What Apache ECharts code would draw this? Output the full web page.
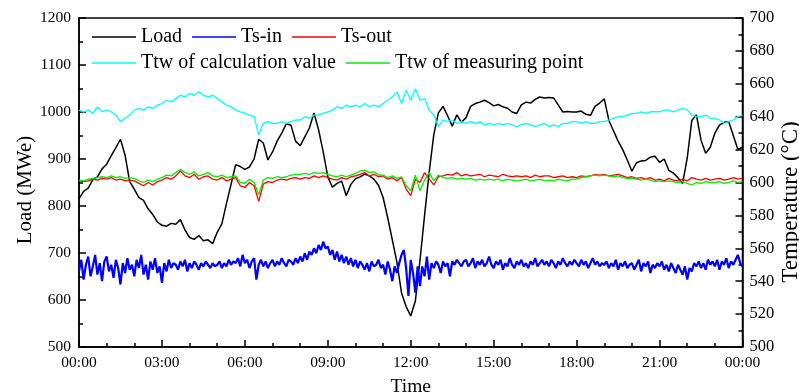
<!DOCTYPE html>
<html>
<head>
<meta charset="utf-8">
<script src="https://cdn.jsdelivr.net/npm/echarts@6/dist/echarts.min.js"></script>
<style>
html, body { margin: 0; padding: 0; background: #fff; }
#main { width: 799px; height: 392px; }
</style>
</head>
<body>
<div id="main"></div>
<script>
/**************** data ****************/
// Load (MWe), one point every 10 min, 00:00 .. 24:00
var load = [
    815, 831, 838, 856, 862, 879,
    889, 907, 924, 942, 908, 852,
    836, 818, 812, 794, 782, 766,
    759, 757, 763, 761, 771, 749,
    733, 729, 737, 726, 728, 720,
    744, 762, 805, 846, 888, 884,
    878, 883, 900, 942, 934, 898,
    915, 938, 955, 975, 972, 938,
    928, 947, 966, 998, 962, 915,
    862, 840, 848, 853, 822, 846,
    858, 862, 868, 864, 857, 844,
    818, 775, 728, 680, 615, 586,
    566, 598, 684, 780, 872, 952,
    998, 1012, 992, 970, 994, 978,
    988, 1012, 1018, 1021, 1025, 1020,
    1013, 1016, 1011, 1008, 1000, 997,
    1015, 1021, 1019, 1027, 1032, 1030,
    1031, 1030, 1015, 1000, 1001, 1000,
    1000, 1002, 995, 993, 1012, 1019,
    1028, 982, 960, 938, 920, 898,
    874, 892, 896, 897, 904, 906,
    893, 900, 876, 870, 860, 848,
    902, 982, 994, 940, 912, 925,
    955, 972, 978, 980, 950, 920,
    925
];

// Ts-in (°C), one point every 5 min
var tsIn = [
    546, 553, 541, 550, 555, 543, 549, 556, 544, 551, 540, 552,
    555, 546, 550, 542, 553, 548, 538, 551, 545, 554, 547, 550,
    543, 553, 548, 556, 544, 550, 541, 552, 547, 554, 545, 549,
    539, 551, 546, 553, 548, 551, 550, 547, 552, 549, 553, 546,
    551, 548, 552, 550, 547, 551, 549, 552, 550, 548, 551, 549,
    550, 552, 548, 551, 549, 553, 550, 552, 551, 554, 549, 556,
    551, 553, 548, 552, 554, 541, 550, 553, 549, 552, 548, 551,
    553, 549, 552, 550, 554, 551, 549, 553, 552, 550, 554, 551,
    555, 552, 557, 553, 558, 556, 560, 557, 562, 559, 564, 560,
    561, 556, 559, 553, 558, 552, 556, 551, 555, 550, 554, 549,
    553, 548, 552, 550, 547, 551, 546, 552, 549, 550, 553, 548,
    550, 544, 552, 547, 540, 549, 545, 551, 556, 559, 548, 531,
    553, 545, 533, 549, 537, 549, 543, 555, 541, 551, 548, 552,
    550, 545, 552, 549, 551, 543, 552, 550, 553, 551, 549, 552,
    553, 549, 551, 554, 548, 552, 550, 553, 549, 551, 555, 550,
    548, 552, 550, 553, 547, 551, 549, 554, 550, 548, 552, 550,
    553, 549, 551, 548, 552, 550, 554, 549, 551, 553, 550, 552,
    549, 553, 551, 548, 552, 550, 554, 551, 549, 552, 550, 553,
    551, 549, 553, 550, 552, 548, 551, 554, 550, 552, 549, 551,
    550, 552, 548, 551, 549, 553, 547, 551, 549, 552, 548, 550,
    551, 547, 550, 553, 546, 551, 549, 552, 545, 550, 548, 551,
    549, 552, 547, 550, 546, 551, 548, 545, 550, 547, 544, 549,
    541, 548, 546, 551, 549, 552, 548, 551, 547, 553, 550, 552,
    549, 553, 547, 552, 550, 554, 548, 552, 550, 553, 556, 551,
    549
];

// Ts-out (°C), every 10 min
var tsOut = [
    601, 600.5, 601, 602, 601.5, 602.5,
    602, 603, 601.5, 602, 601, 601.5,
    601, 599.5, 598, 600, 598.5, 600.5,
    601.5, 603, 602, 604, 607, 604,
    603, 605, 602, 603.5, 604, 602,
    601.5, 603, 601, 602, 603, 598,
    597, 600, 598, 588.5, 599, 600.5,
    600, 601.5, 602, 601.5, 602.5, 603,
    602, 603, 602.5, 604, 603, 604,
    603, 602, 601.5, 603, 602, 603.5,
    604, 605, 606, 604, 605, 603.5,
    604, 602, 603, 601, 603, 596,
    592, 602, 600, 606, 602, 598.5,
    603.5, 604, 605, 604.5, 606, 604,
    605, 604, 604.5, 605, 603.5, 604.5,
    604, 603.5, 605, 604, 603.5, 604,
    603.5, 604, 603, 604.5, 603.5, 604,
    604, 603, 603.5, 604, 603, 603.5,
    603, 604, 603.5, 604, 605, 604.5,
    605, 604, 604.5, 605, 604, 603,
    603.5, 602.5, 603, 602, 603, 601.5,
    602, 601, 602.5, 601.5, 601, 602,
    601, 603, 602, 601.5, 602.5, 601.5,
    602, 602.5, 601.5, 602, 603, 602,
    602.5
];

// Ttw of calculation value (°C), every 10 min
var ttwCalc = [
    644, 643, 644, 642, 646, 643,
    644, 643, 641, 637, 639, 641,
    644, 645, 644, 646, 645, 647,
    648, 650, 649, 651, 653, 652,
    654, 653, 655, 653, 652, 653,
    651, 649, 647, 646, 644, 643,
    642, 641, 640, 629, 636, 637,
    636, 636, 637, 636, 637, 638,
    638, 640, 639, 641, 641, 642,
    643, 644, 646, 645, 647, 646,
    647, 646, 648, 646, 647, 646,
    648, 650, 652, 655, 648, 656,
    650, 657, 650, 651, 644, 641,
    634, 638, 637, 638, 636, 637,
    636, 637, 636, 637, 635, 636,
    635, 636, 635, 636, 635, 634,
    635, 636, 635, 634, 635, 636,
    634, 635, 634, 636, 636, 637,
    637, 636, 637, 636, 636, 637,
    637, 638, 639, 640, 640, 641,
    642, 642, 643, 642, 643, 643,
    643, 644, 644, 643, 644, 645,
    644, 641, 640, 640, 641, 639,
    639, 638, 636, 637, 638, 640,
    641
];

// Ttw of measuring point (°C), every 10 min
var ttwMeas = [
    601.5, 601, 602, 602.5, 603, 603.5,
    603, 604, 603, 603.5, 602.5, 603,
    602.5, 601, 600, 601.5, 600.5, 602,
    603, 604.5, 604, 606, 608, 606,
    605, 606.5, 604, 605, 606, 604,
    603.5, 604.5, 603, 603.5, 604, 600,
    599.5, 602, 600, 592.5, 601.5, 603,
    602.5, 603.5, 603, 603.5, 604.5, 605,
    605, 605.5, 605, 606, 605.5, 606,
    605, 604, 603.5, 604.5, 603.5, 604.5,
    605.5, 607, 607.5, 606, 606.5, 604.5,
    604.5, 603, 604, 602.5, 603.5, 598,
    595, 604.5, 595, 601.5, 606, 601,
    604.5, 603, 602.5, 603, 602, 602.5,
    602, 602.5, 601.5, 602, 601.5, 602,
    601.5, 602, 601, 602, 601.5, 601,
    601.5, 602, 601, 601.5, 602, 601,
    601.5, 601, 602, 601.5, 601, 602,
    602, 603, 603.5, 604, 604.5, 604,
    604.5, 604, 603.5, 604, 603, 602.5,
    602.5, 602, 601.5, 602, 601.5, 600.5,
    601, 600.5, 601, 600.5, 600, 600.5,
    599.5, 598.5, 600, 599.5, 600.5, 600,
    600, 600.5, 599.5, 600, 601, 600,
    600.5
];

// time grid in minutes
var times10 = [];
for (var i = 0; i <= 144; i++) times10.push(i * 10);
var times5 = [];
for (var j = 0; j <= 288; j++) times5.push(j * 5);

function pair(t, v) {
    return t.map(function (x, k) { return [x, v[k]]; });
}

function fmtTime(v) {
    var h = Math.floor(v / 60) % 24;
    return (h < 10 ? '0' : '') + h + ':00';
}

function fmtPlain(v) {
    return String(v);
}

/**************** chart ****************/
var myChart = echarts.init(document.getElementById('main'));
var black = '#000';
var axisLine = { show: true, lineStyle: { color: black, width: 1.5 } };
var legendText = { fontSize: 20, fontFamily: 'Liberation Serif', color: black };

var option = {
    animation: false,
    backgroundColor: '#fff',
    textStyle: { fontFamily: 'Liberation Serif', color: black },
    grid: {
        left: 79, right: 56.5, top: 18, bottom: 45,
        outerBoundsMode: 'none', containLabel: false,
        show: true, borderColor: black, borderWidth: 1.5
    },
    // 两个y轴标题用graphic放，位置跟原图对齐
    graphic: [{
        type: 'text', x: 25, y: 190, rotation: Math.PI / 2,
        style: {
            text: 'Load (MWe)', font: '21px "Liberation Serif"',
            fill: black, align: 'center', verticalAlign: 'middle'
        }
    }, {
        type: 'text', x: 791, y: 202, rotation: Math.PI / 2,
        style: {
            text: 'Temperature (°C)', font: '23px "Liberation Serif"',
            fill: black, align: 'center', verticalAlign: 'middle'
        }
    }],
    legend: [{
        data: ['Load', 'Ts-in', 'Ts-out'],
        left: 92, top: 27, padding: 0,
        icon: 'rect', itemWidth: 44, itemHeight: 1.5, itemGap: 10,
        textStyle: legendText
    }, {
        data: ['Ttw of calculation value', 'Ttw of measuring point'],
        left: 92, top: 53, padding: 0,
        icon: 'rect', itemWidth: 44, itemHeight: 1.5, itemGap: 10,
        textStyle: legendText
    }],
    xAxis: {
        type: 'value', min: 0, max: 1440, interval: 180,
        name: 'Time', nameLocation: 'middle', nameGap: 30,
        nameTextStyle: { fontSize: 19.5, color: black },
        axisLine: axisLine,
        axisTick: { inside: true, length: 7, lineStyle: { color: black, width: 1.5 } },
        minorTick: { show: true, splitNumber: 3, length: 4, lineStyle: { color: black, width: 1.5 } },
        axisLabel: { fontSize: 15.5, color: black, margin: 8, formatter: fmtTime },
        splitLine: { show: false }
    },
    yAxis: [{
        type: 'value', min: 500, max: 1200, interval: 100, position: 'left',
        axisLine: axisLine,
        axisTick: { inside: true, length: 7, lineStyle: { color: black, width: 1.5 } },
        minorTick: { show: true, splitNumber: 2, length: 4, lineStyle: { color: black, width: 1.5 } },
        axisLabel: { fontSize: 15.5, color: black, margin: 8, formatter: fmtPlain },
        splitLine: { show: false }
    }, {
        type: 'value', min: 500, max: 700, interval: 20, position: 'right',
        axisLine: axisLine,
        axisTick: { inside: true, length: 7, lineStyle: { color: black, width: 1.5 } },
        minorTick: { show: true, splitNumber: 2, length: 4, lineStyle: { color: black, width: 1.5 } },
        axisLabel: { fontSize: 16.5, color: black, margin: 7, formatter: fmtPlain },
        splitLine: { show: false }
    }],
    series: [{
        name: 'Load', type: 'line', yAxisIndex: 0,
        symbol: 'none', showSymbol: false,
        color: '#000000', lineStyle: { width: 1.5 },
        data: pair(times10, load)
    }, {
        name: 'Ts-in', type: 'line', yAxisIndex: 1,
        symbol: 'none', showSymbol: false,
        color: '#0000ff', lineStyle: { width: 2.2 },
        data: pair(times5, tsIn)
    }, {
        name: 'Ts-out', type: 'line', yAxisIndex: 1,
        symbol: 'none', showSymbol: false,
        color: '#ff0000', lineStyle: { width: 1.3 },
        data: pair(times10, tsOut)
    }, {
        name: 'Ttw of calculation value', type: 'line', yAxisIndex: 1,
        symbol: 'none', showSymbol: false,
        color: '#00ffff', lineStyle: { width: 1.3 },
        data: pair(times10, ttwCalc)
    }, {
        name: 'Ttw of measuring point', type: 'line', yAxisIndex: 1,
        symbol: 'none', showSymbol: false,
        color: '#00ee00', lineStyle: { width: 1.3 },
        data: pair(times10, ttwMeas)
    }]
};

myChart.setOption(option);
</script>
</body>
</html>
